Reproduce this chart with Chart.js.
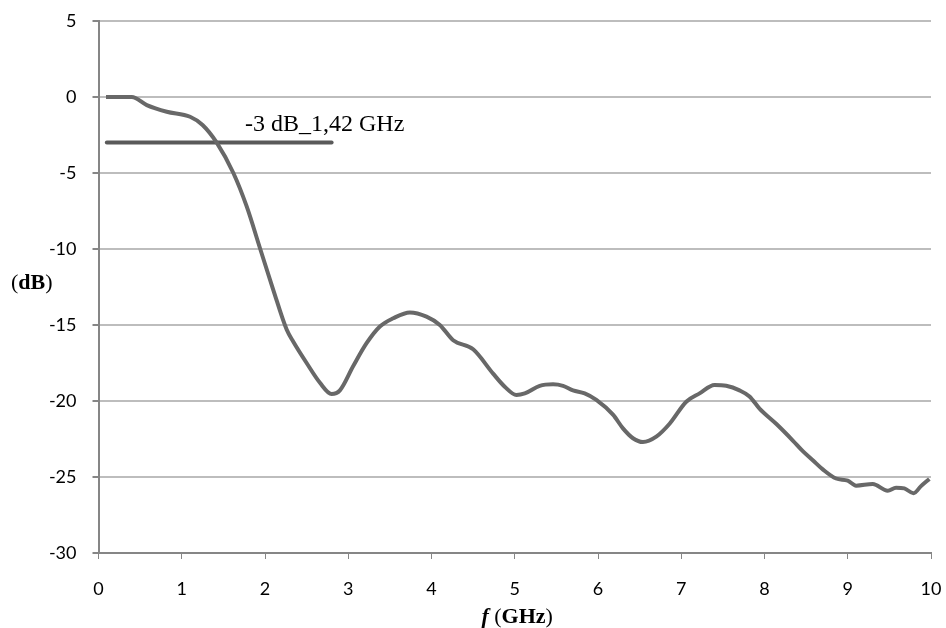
<!DOCTYPE html>
<html>
<head>
<meta charset="utf-8">
<script src="https://cdn.jsdelivr.net/npm/chart.js@4"></script>
<style>
  html, body { margin: 0; padding: 0; background: #fff; }
  #wrap { width: 946px; height: 628px; }
</style>
</head>
<body>
<div id="wrap"><canvas id="chart-response"></canvas></div>
<script>
// data
const freqGHz = [0.09, 0.25, 0.4, 0.58, 0.82, 1.1, 1.25, 1.42, 1.62, 1.78, 1.94, 2.1, 2.26, 2.34, 2.5, 2.66, 2.8, 2.9, 3.06, 3.22, 3.38, 3.54, 3.74, 3.94, 4.1, 4.26, 4.5, 4.74, 4.88, 5.02, 5.12, 5.3, 5.46, 5.58, 5.7, 5.84, 5.98, 6.18, 6.3, 6.42, 6.54, 6.7, 6.86, 7.06, 7.22, 7.4, 7.54, 7.7, 7.82, 7.94, 8.14, 8.34, 8.46, 8.58, 8.7, 8.86, 9.0, 9.1, 9.3, 9.48, 9.58, 9.68, 9.79, 9.88, 9.98];
const gainDB = [0, 0, 0, -0.53, -0.97, -1.3, -1.84, -3.0, -5.0, -7.2, -9.95, -12.7, -15.3, -16.1, -17.5, -18.8, -19.54, -19.3, -17.7, -16.2, -15.1, -14.56, -14.17, -14.45, -15.0, -16.0, -16.6, -18.2, -19.06, -19.6, -19.5, -19.0, -18.9, -19.0, -19.3, -19.5, -19.93, -20.9, -21.8, -22.45, -22.7, -22.35, -21.5, -20.05, -19.5, -18.95, -19.0, -19.3, -19.7, -20.5, -21.5, -22.6, -23.3, -23.9, -24.5, -25.1, -25.24, -25.57, -25.46, -25.9, -25.7, -25.75, -26.07, -25.6, -25.13];

const cutoffFreq = [0.1, 2.8];
const cutoffDB = [-3, -3];
const cutoffLabel = '-3 dB_1,42 GHz';

const yTicks = [5, 0, -5, -10, -15, -20, -25, -30];
const xTicks = [0, 1, 2, 3, 4, 5, 6, 7, 8, 9, 10];

const LINE_GREY = 'rgb(104, 104, 104)';
const CUT_GREY = 'rgb(90, 90, 90)';
const SERIF = '"Liberation Serif"';

function toPoints(xs, ys) {
    return xs.map((x, i) => ({x: x, y: ys[i]}));
}

// draw a run of [text, font] pieces left to right
function drawPieces(ctx, pieces, x, y) {
    pieces.forEach(p => {
        ctx.font = p[1];
        ctx.fillText(p[0], x, y);
        x += ctx.measureText(p[0]).width;
    });
}

// text that Chart.js has no slot for: the horizontal y title, the mixed-style x title, the label
const extraText = {
    id: 'extraText',
    afterDraw(chart) {
        const ctx = chart.ctx;
        const xs = chart.scales.x, ys = chart.scales.y;
        ctx.save();
        ctx.fillStyle = '#000';
        ctx.textBaseline = 'middle';
        ctx.textAlign = 'left';

        drawPieces(ctx, [
            ['(', '22px ' + SERIF],
            ['dB', 'bold 22px ' + SERIF],
            [')', '22px ' + SERIF]
        ], 11, 283);

        ctx.font = '24px ' + SERIF;
        ctx.fillText(cutoffLabel, xs.getPixelForValue(1.76), ys.getPixelForValue(-1.85));

        drawPieces(ctx, [
            ['f', 'italic bold 22px ' + SERIF],
            [' (', '22px ' + SERIF],
            ['GHz', 'bold 22px ' + SERIF],
            [')', '22px ' + SERIF]
        ], xs.getPixelForValue(4.6), 617);
        ctx.restore();
    }
};

const config_response = {
    type: 'line',
    data: {
        datasets: [
            {
                label: 'Response',
                data: toPoints(freqGHz, gainDB),
                borderColor: LINE_GREY,
                borderWidth: 4,
                pointRadius: 0,
                tension: 0.4,
                cubicInterpolationMode: 'monotone',
                fill: false,
            },
            {
                label: '-3 dB',
                data: toPoints(cutoffFreq, cutoffDB),
                borderColor: CUT_GREY,
                borderWidth: 4,
                borderCapStyle: 'round',
                pointRadius: 0,
                fill: false,
            }
        ]
    },
    options: {
        responsive: true,
        maintainAspectRatio: false,
        animation: false,
        layout: {
            padding: {left: 0, right: 15, top: 21, bottom: 0}
        },
        scales: {
            x: {
                type: 'linear',
                min: 0,
                max: 10,
                afterBuildTicks: (scale) => { scale.ticks = xTicks.map(v => ({value: v})); },
                afterFit: (scale) => {
                    scale.height = 75;
                    scale.paddingLeft = 0;
                    scale.paddingRight = 0;
                },
                ticks: {
                    color: '#000',
                    font: {family: 'Lato', size: 18},
                    padding: 19,
                    maxRotation: 0,
                },
                grid: {
                    drawOnChartArea: false,
                    drawTicks: true,
                    tickLength: 6,
                    tickColor: '#868686',
                },
                border: {color: '#868686', width: 2},
            },
            y: {
                type: 'linear',
                min: -30,
                max: 5,
                afterBuildTicks: (scale) => { scale.ticks = yTicks.map(v => ({value: v})); },
                afterFit: (scale) => {
                    scale.width = 98.5;
                    scale.paddingTop = 0;
                    scale.paddingBottom = 0;
                },
                ticks: {
                    color: '#000',
                    font: {family: 'Lato', size: 18},
                    padding: 16,
                },
                grid: {
                    color: '#bdbdbd',
                    lineWidth: 2,
                    tickLength: 6,
                    tickColor: '#868686',
                },
                border: {color: '#868686', width: 2},
            }
        },
        plugins: {
            legend: {display: false},
            title: {display: false},
            tooltip: {enabled: false}
        }
    },
    plugins: [extraText]
};

//render
var responseChart = new Chart(
    document.getElementById('chart-response'),
    config_response
);
</script>
</body>
</html>
